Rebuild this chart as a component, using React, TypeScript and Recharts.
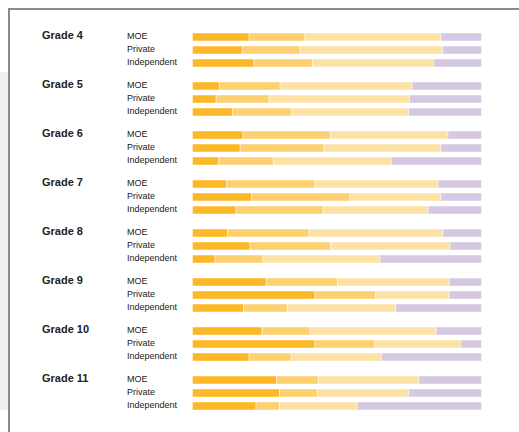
import React from 'react';
import { BarChart, Bar, XAxis, YAxis } from 'recharts';

// Grade groups and the school sectors shown inside each group
const grades = ['Grade 4', 'Grade 5', 'Grade 6', 'Grade 7', 'Grade 8', 'Grade 9', 'Grade 10', 'Grade 11'];
const sectors = ['MOE', 'Private', 'Independent'];

// Percentage share in each band, indexed [grade][sector]
const band1 = [
  [19.6, 17.2, 21.3],
  [9.3, 8.2, 13.9],
  [17.5, 16.5, 9.1],
  [11.8, 20.5, 15.1],
  [12.1, 19.9, 7.8],
  [25.5, 42.4, 17.7],
  [24.1, 42.4, 19.6],
  [29.1, 30.1, 22.0],
];
const band2 = [
  [19.3, 20.0, 20.2],
  [21.0, 18.3, 20.3],
  [30.3, 29.0, 18.9],
  [30.6, 34.0, 30.1],
  [28.2, 27.9, 16.6],
  [24.7, 21.0, 15.1],
  [16.6, 20.7, 14.6],
  [14.4, 13.2, 8.1],
];
const band3 = [
  [47.0, 49.3, 42.0],
  [45.6, 48.6, 40.6],
  [40.6, 40.4, 40.8],
  [42.6, 31.4, 36.3],
  [46.3, 41.3, 40.5],
  [38.6, 25.4, 37.5],
  [43.6, 29.8, 31.2],
  [34.8, 31.5, 26.9],
];
const band4 = [
  [14.1, 13.5, 16.5],
  [24.1, 24.9, 25.2],
  [11.6, 14.1, 31.2],
  [15.0, 14.1, 18.5],
  [13.4, 10.9, 35.1],
  [11.2, 11.2, 29.7],
  [15.7, 7.1, 34.6],
  [21.7, 25.2, 43.0],
];

const bandKeys = ['b1', 'b2', 'b3', 'b4'];
const bandColors = ['#FDB827', '#FDD072', '#FDE2A6', '#D5C9E2'];

const FONT = '"Liberation Sans", Arial, sans-serif';

function rowsFor(g: number) {
  return sectors.map((sector, k) => ({
    sector,
    b1: band1[g][k],
    b2: band2[g][k],
    b3: band3[g][k],
    b4: band4[g][k],
  }));
}

function makeTick(grade: string) {
  return (props: any) => {
    const { y, payload } = props;
    const first = payload.value === sectors[0];
    return (
      <g>
        {first && (
          <text x={42} y={y} dy={2} fontFamily={FONT} fontSize={11} fontWeight="bold" fill="#222">
            {grade}
          </text>
        )}
        <text x={127} y={y} dy={2} fontFamily={FONT} fontSize={9} fill="#222">
          {payload.value}
        </text>
      </g>
    );
  };
}

function GradeRow({ g }: { g: number }) {
  return (
    <div style={{ position: 'absolute', left: 0, top: 29.5 + 49 * g, width: 519, height: 39 }}>
      <BarChart
        width={519}
        height={39}
        data={rowsFor(g)}
        layout="vertical"
        margin={{ top: 0, right: 37.5, bottom: 0, left: 0 }}
        barCategoryGap={0}
      >
        <XAxis type="number" domain={[0, 100]} hide />
        <YAxis
          type="category"
          dataKey="sector"
          width={192.5}
          interval={0}
          axisLine={false}
          tickLine={false}
          tick={makeTick(grades[g])}
        />
        {bandKeys.map((key, i) => (
          <Bar
            key={key}
            dataKey={key}
            stackId="s"
            barSize={8}
            fill={bandColors[i]}
            stroke="#ffffff"
            strokeOpacity={0.45}
            strokeWidth={1}
            isAnimationActive={false}
          />
        ))}
      </BarChart>
    </div>
  );
}

export default function App() {
  return (
    <div style={{ position: 'absolute', left: 0, top: 0, width: 519, height: 432, background: '#fff', overflow: 'hidden' }}>
      <div style={{ position: 'absolute', left: 0, top: 72, width: 8, height: 338, background: '#efefef' }} />
      <div
        style={{
          position: 'absolute',
          left: 8,
          top: 8,
          width: 520,
          height: 430,
          borderTop: '2px solid #8a8a8a',
          borderLeft: '2px solid #8a8a8a',
          boxSizing: 'border-box',
        }}
      />
      {grades.map((_, g) => (
        <GradeRow key={g} g={g} />
      ))}
    </div>
  );
}
